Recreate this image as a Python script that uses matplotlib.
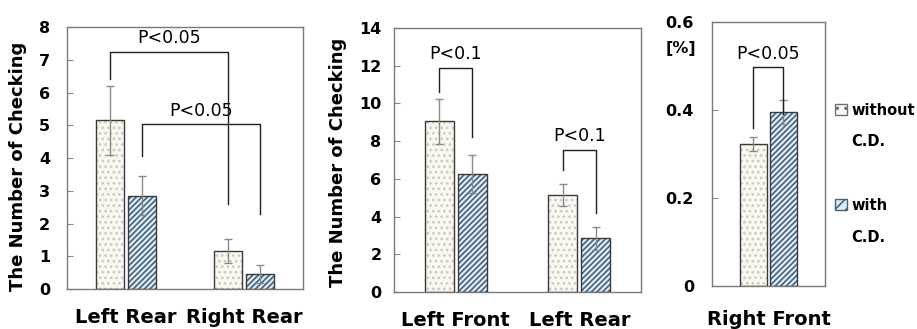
import matplotlib
matplotlib.use("Agg")
import matplotlib.pyplot as plt
from matplotlib.patches import Rectangle

plt.rcParams["font.family"] = "DejaVu Sans"
plt.rcParams["hatch.linewidth"] = 1.2

# データ
left_cats = ["Left Rear", "Right Rear"]
left_without = [5.15, 1.15]
left_with = [2.85, 0.45]
left_without_err = [1.05, 0.37]
left_with_err = [0.60, 0.28]

mid_cats = ["Left Front", "Left Rear"]
mid_without = [9.05, 5.15]
mid_with = [6.25, 2.85]
mid_without_err = [1.20, 0.60]
mid_with_err = [1.00, 0.60]

right_cats = ["Right Front"]
right_without = [0.323]
right_with = [0.395]
right_without_err = [0.016]
right_with_err = [0.027]

# 有意差の括弧: (左の棒, 右の棒, 上端, 左脚の下端, 右脚の下端, ラベル)
# 棒は (グループ番号, 0=without / 1=with)
left_brackets = [((0, 0), (1, 0), 7.25, 6.4, 2.6, "P<0.05"),
                 ((0, 1), (1, 1), 5.05, 4.05, 2.3, "P<0.05")]
mid_brackets = [((0, 0), (0, 1), 11.9, 10.6, 8.2, "P<0.1"),
                ((1, 0), (1, 1), 7.55, 6.45, 4.2, "P<0.1")]
right_brackets = [((0, 0), (0, 1), 0.498, 0.36, 0.39, "P<0.05")]

WIDTH = 0.235
OFFSET = 0.133
C_WITHOUT = "#fbf8f1"
C_WITHOUT_HATCH = "#cfcbc3"
C_WITH = "#dbedf9"
C_WITH_HATCH = "#4a6079"
EDGE = "#3a3a3a"
GREY = "#8a8a8a"


def draw_panel(ax, cats, v0, v1, e0, e1, brackets, ylim, yticks, yticklabels, tick_pad, xpad):
    x = list(range(len(cats)))
    x0 = [i - OFFSET for i in x]
    x1 = [i + OFFSET for i in x]
    # 塗り + ハッチ
    b0 = ax.bar(x0, v0, WIDTH, color=C_WITHOUT, edgecolor=C_WITHOUT_HATCH, hatch="...", linewidth=0, zorder=2)
    b1 = ax.bar(x1, v1, WIDTH, color=C_WITH, edgecolor=C_WITH_HATCH, hatch="//////", linewidth=0, zorder=2)
    # 枠線
    ax.bar(x0, v0, WIDTH, fill=False, edgecolor=EDGE, linewidth=1.0, zorder=3)
    ax.bar(x1, v1, WIDTH, fill=False, edgecolor=EDGE, linewidth=1.0, zorder=3)
    ax.errorbar(x0, v0, yerr=e0, fmt="none", ecolor=GREY, elinewidth=1.0, capsize=3, zorder=4)
    ax.errorbar(x1, v1, yerr=e1, fmt="none", ecolor=GREY, elinewidth=1.0, capsize=3, zorder=4)

    for (ga, sa), (gb, sb), top, yl, yr, label in brackets:
        xa = ga + (OFFSET if sa else -OFFSET)
        xb = gb + (OFFSET if sb else -OFFSET)
        ax.plot([xa, xa, xb, xb], [yl, top, top, yr], color="#202020", linewidth=1.0, zorder=5)
        ax.annotate(label, ((xa + xb) / 2, top), xytext=(0, 3), textcoords="offset points",
                    ha="center", va="bottom", fontsize=12.5)

    ax.set_xlim(-0.5, len(cats) - 0.5)
    ax.set_ylim(*ylim)
    ax.set_xticks(x)
    ax.set_xticklabels(cats, fontsize=14, fontweight="bold")
    ax.tick_params(axis="x", length=0, pad=xpad)
    ax.set_yticks(yticks)
    ax.set_yticklabels(yticklabels, fontsize=11.5, fontweight="bold")
    ax.tick_params(axis="y", direction="in", length=4, color=GREY, pad=tick_pad)
    for s in ax.spines.values():
        s.set_color("#7a7a7a")
        s.set_linewidth(1.0)
    return b0, b1


fig = plt.figure(figsize=(9.17, 3.29), dpi=100)
ax1 = fig.add_axes([0.0731, 0.1216, 0.2574, 0.796])
ax2 = fig.add_axes([0.4297, 0.1125, 0.2694, 0.8024])
ax3 = fig.add_axes([0.7764, 0.1307, 0.1232, 0.8024])

draw_panel(ax1, left_cats, left_without, left_with, left_without_err, left_with_err,
           left_brackets, (0, 8), range(0, 9), [str(v) for v in range(0, 9)], 12, 14)
ax1.set_ylabel("The Number of Checking", fontsize=13, fontweight="bold")
ax1.yaxis.set_label_coords(-0.17, 0.47)

draw_panel(ax2, mid_cats, mid_without, mid_with, mid_without_err, mid_with_err,
           mid_brackets, (0, 14), range(0, 15, 2), [str(v) for v in range(0, 15, 2)], 9, 14)
ax2.set_ylabel("The Number of Checking", fontsize=13, fontweight="bold")
ax2.yaxis.set_label_coords(-0.19, 0.49)

b0, b1 = draw_panel(ax3, right_cats, right_without, right_with, right_without_err, right_with_err,
                    right_brackets, (0, 0.6), [0, 0.2, 0.4, 0.6], ["0", "0.2", "0.4", "0.6"], 13, 17.5)
ax3.text(-0.14, 0.90, "[%]", transform=ax3.transAxes, ha="right", va="center",
         fontsize=11.5, fontweight="bold")

# 凡例(右側): 2行目の "C.D." と空行は見えないハンドルで並べる
blank = Rectangle((0, 0), 1, 1, visible=False)
h0 = Rectangle((0, 0), 1, 1, facecolor=C_WITHOUT, edgecolor="#707070", hatch="..", linewidth=1.0)
h1 = Rectangle((0, 0), 1, 1, facecolor=C_WITH, edgecolor=C_WITH_HATCH, hatch="///", linewidth=1.0)
leg = ax3.legend([h0, blank, blank, h1, blank], ["without", "C.D.", "", "with", "C.D."],
                 loc="upper left", bbox_to_anchor=(1.09, 0.695), frameon=False,
                 handlelength=0.8, handleheight=0.8, handletextpad=0.3,
                 labelspacing=1.15, borderaxespad=0.0, borderpad=0.0,
                 prop={"size": 10.5, "weight": "bold"})

fig.savefig("out.png", dpi=100)
